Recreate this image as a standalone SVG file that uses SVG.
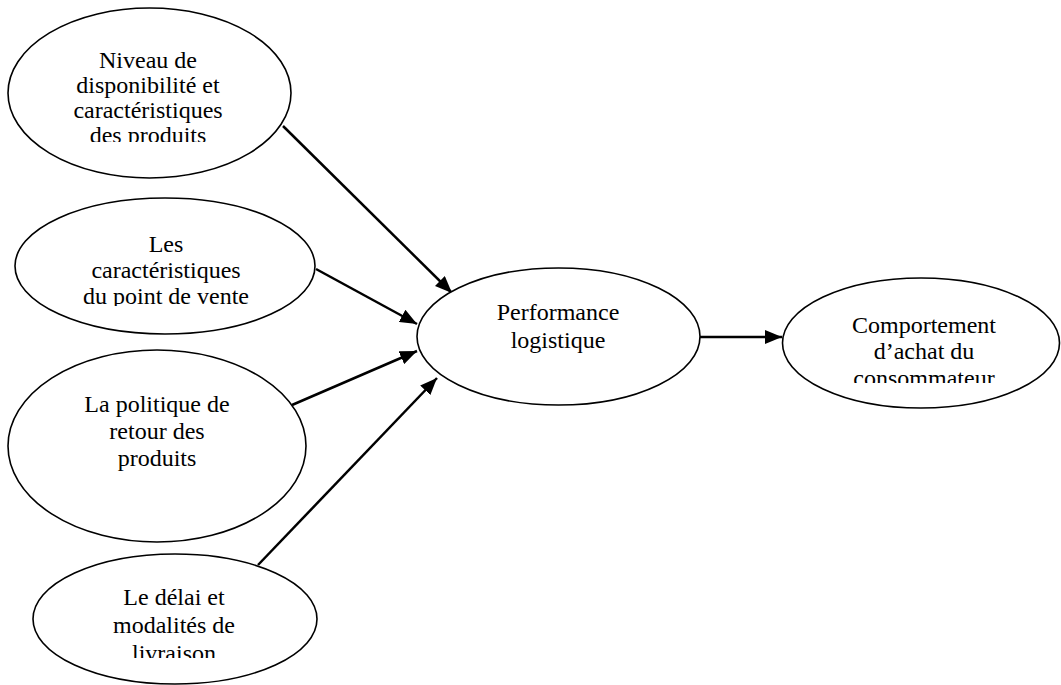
<svg xmlns="http://www.w3.org/2000/svg" width="1061" height="685" viewBox="0 0 1061 685">
  <style>
    .node ellipse { fill: #ffffff; stroke: #000000; stroke-width: 1.6; }
    .node text { font-family: "Liberation Serif", "Times New Roman", serif; font-size: 24px; fill: #000000; text-anchor: middle; }
    .edges line { stroke: #000000; stroke-width: 2.5; marker-end: url(#arrow); }
  </style>
  <defs>
    <marker id="arrow" markerUnits="userSpaceOnUse" markerWidth="18" markerHeight="14" refX="17" refY="7" orient="auto">
      <path d="M0,0 L17,7 L0,14 Z" fill="#000000"/>
    </marker>
    <!-- text boxes clip their last line -->
    <clipPath id="clip-dispo"><rect x="0" y="0" width="300" height="142"/></clipPath>
    <clipPath id="clip-pdv"><rect x="0" y="190" width="330" height="116"/></clipPath>
    <clipPath id="clip-delai"><rect x="0" y="560" width="330" height="98"/></clipPath>
    <clipPath id="clip-compo"><rect x="780" y="270" width="281" height="113"/></clipPath>
  </defs>

  <rect width="1061" height="685" fill="#ffffff"/>

  <g class="edges">
    <line x1="283" y1="126" x2="452" y2="293"/>
    <line x1="316" y1="269" x2="417" y2="324"/>
    <line x1="292" y1="405" x2="417" y2="351"/>
    <line x1="258" y1="565" x2="437" y2="378"/>
    <line x1="700" y1="337" x2="782" y2="337"/>
  </g>

  <g id="node-dispo" class="node">
    <ellipse cx="149.5" cy="93" rx="141.5" ry="85"/>
    <g clip-path="url(#clip-dispo)">
      <text x="148" y="68">Niveau de</text>
      <text x="148" y="93">disponibilité et</text>
      <text x="148" y="118">caractéristiques</text>
      <text x="148" y="143">des produits</text>
    </g>
  </g>

  <g id="node-pdv" class="node">
    <ellipse cx="165" cy="266" rx="150" ry="68"/>
    <g clip-path="url(#clip-pdv)">
      <text x="166" y="252">Les</text>
      <text x="166" y="278">caractéristiques</text>
      <text x="166" y="304">du point de vente</text>
    </g>
  </g>

  <g id="node-retour" class="node">
    <ellipse cx="157" cy="446" rx="149" ry="96"/>
    <text x="157" y="412">La politique de</text>
    <text x="157" y="439">retour des</text>
    <text x="157" y="466">produits</text>
  </g>

  <g id="node-delai" class="node">
    <ellipse cx="175" cy="619" rx="142" ry="65"/>
    <g clip-path="url(#clip-delai)">
      <text x="174" y="605">Le délai et</text>
      <text x="174" y="633">modalités de</text>
      <text x="174" y="661">livraison</text>
    </g>
  </g>

  <g id="node-perf" class="node">
    <ellipse cx="558.5" cy="336.5" rx="141.5" ry="68.5"/>
    <text x="558" y="320">Performance</text>
    <text x="558" y="348">logistique</text>
  </g>

  <g id="node-compo" class="node">
    <ellipse cx="921" cy="343" rx="138.5" ry="65"/>
    <g clip-path="url(#clip-compo)">
      <text x="924" y="333">Comportement</text>
      <text x="924" y="359">d’achat du</text>
      <text x="924" y="386">consommateur</text>
    </g>
  </g>
</svg>
